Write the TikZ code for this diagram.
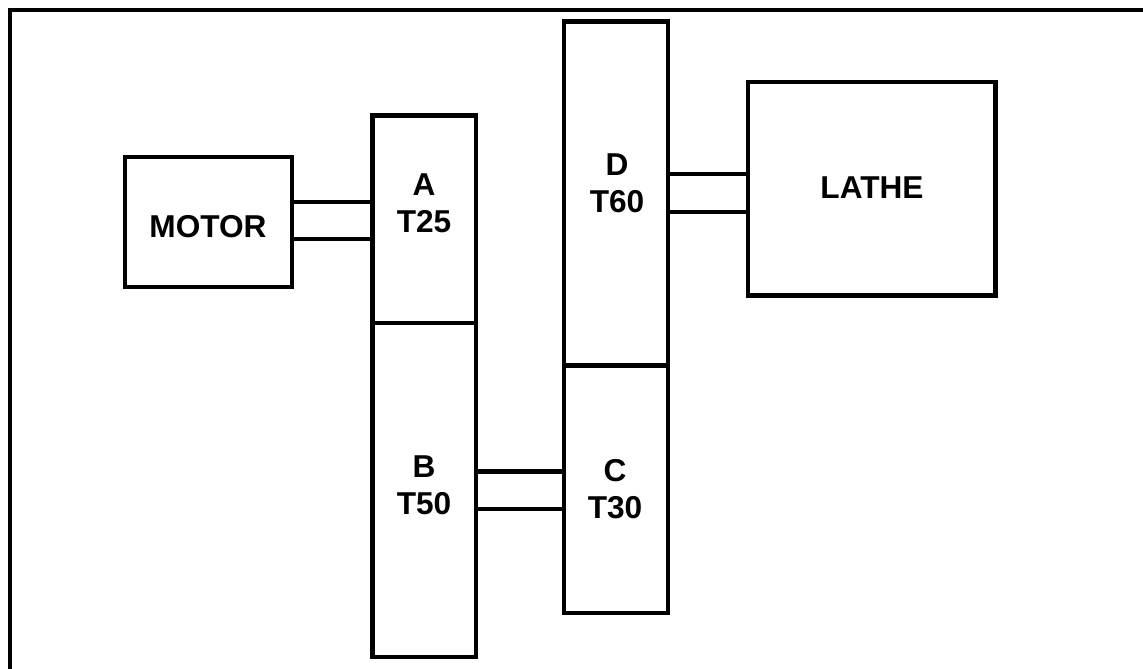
\documentclass[tikz,border=0pt]{standalone}
\usepackage{fontspec}
\setmainfont{Liberation Sans}
\usepackage{tikz}

\tikzset{
  box/.style={draw, line width=2.6pt, rectangle, inner sep=0pt, outer sep=0pt},
  txt/.style={font=\fontsize{18}{21}\selectfont\bfseries, align=center, inner sep=0pt},
  shaft/.style={line width=2.6pt}
}

\begin{document}
\begin{tikzpicture}[x=0.02cm, y=-0.02cm]
        \useasboundingbox (0,0) rectangle (1143,669);
        % frame (only top and left edge show)
        \draw[line width=2.6pt] (1143,10) -- (10,10) -- (10,669);
        % boxes
        \node[box, minimum width=3.34cm, minimum height=2.6cm] (motor) at (208.5,222) {};
        \node[box, minimum width=2.07cm, minimum height=4.15cm] (a) at (424.25,219.25) {};
        \node[box, minimum width=2.07cm, minimum height=6.68cm, anchor=north] (b) at (a.south) {};
        \node[box, minimum width=2.08cm, minimum height=6.88cm] (d) at (616,193.6) {};
        \node[box, minimum width=2.08cm, minimum height=4.95cm, anchor=north] (c) at (d.south) {};
        \node[box, minimum width=4.95cm, minimum height=4.27cm] (lathe) at (871.75,188.75) {};
        % labels
        \node[txt] (lmotor) at (208,227) {MOTOR};
        \node[txt] (la) at (424,203.5) {A\\T25};
        \node[txt] (lb) at (424,485) {B\\T50};
        \node[txt] (lc) at (615,489) {C\\T30};
        \node[txt] (ld) at (617,183.5) {D\\T60};
        \node[txt] (llathe) at (872,188) {LATHE};
        % shafts
        \draw[shaft] (motor.east |- 0,202) -- (a.west |- 0,202);
        \draw[shaft] (motor.east |- 0,239) -- (a.west |- 0,239);
        \draw[shaft] (b.east |- 0,471.7) -- (c.west |- 0,471.7);
        \draw[shaft] (b.east |- 0,509) -- (c.west |- 0,509);
        \draw[shaft] (d.east |- 0,174) -- (lathe.west |- 0,174);
        \draw[shaft] (d.east |- 0,212) -- (lathe.west |- 0,212);
    \end{tikzpicture}
\end{document}
